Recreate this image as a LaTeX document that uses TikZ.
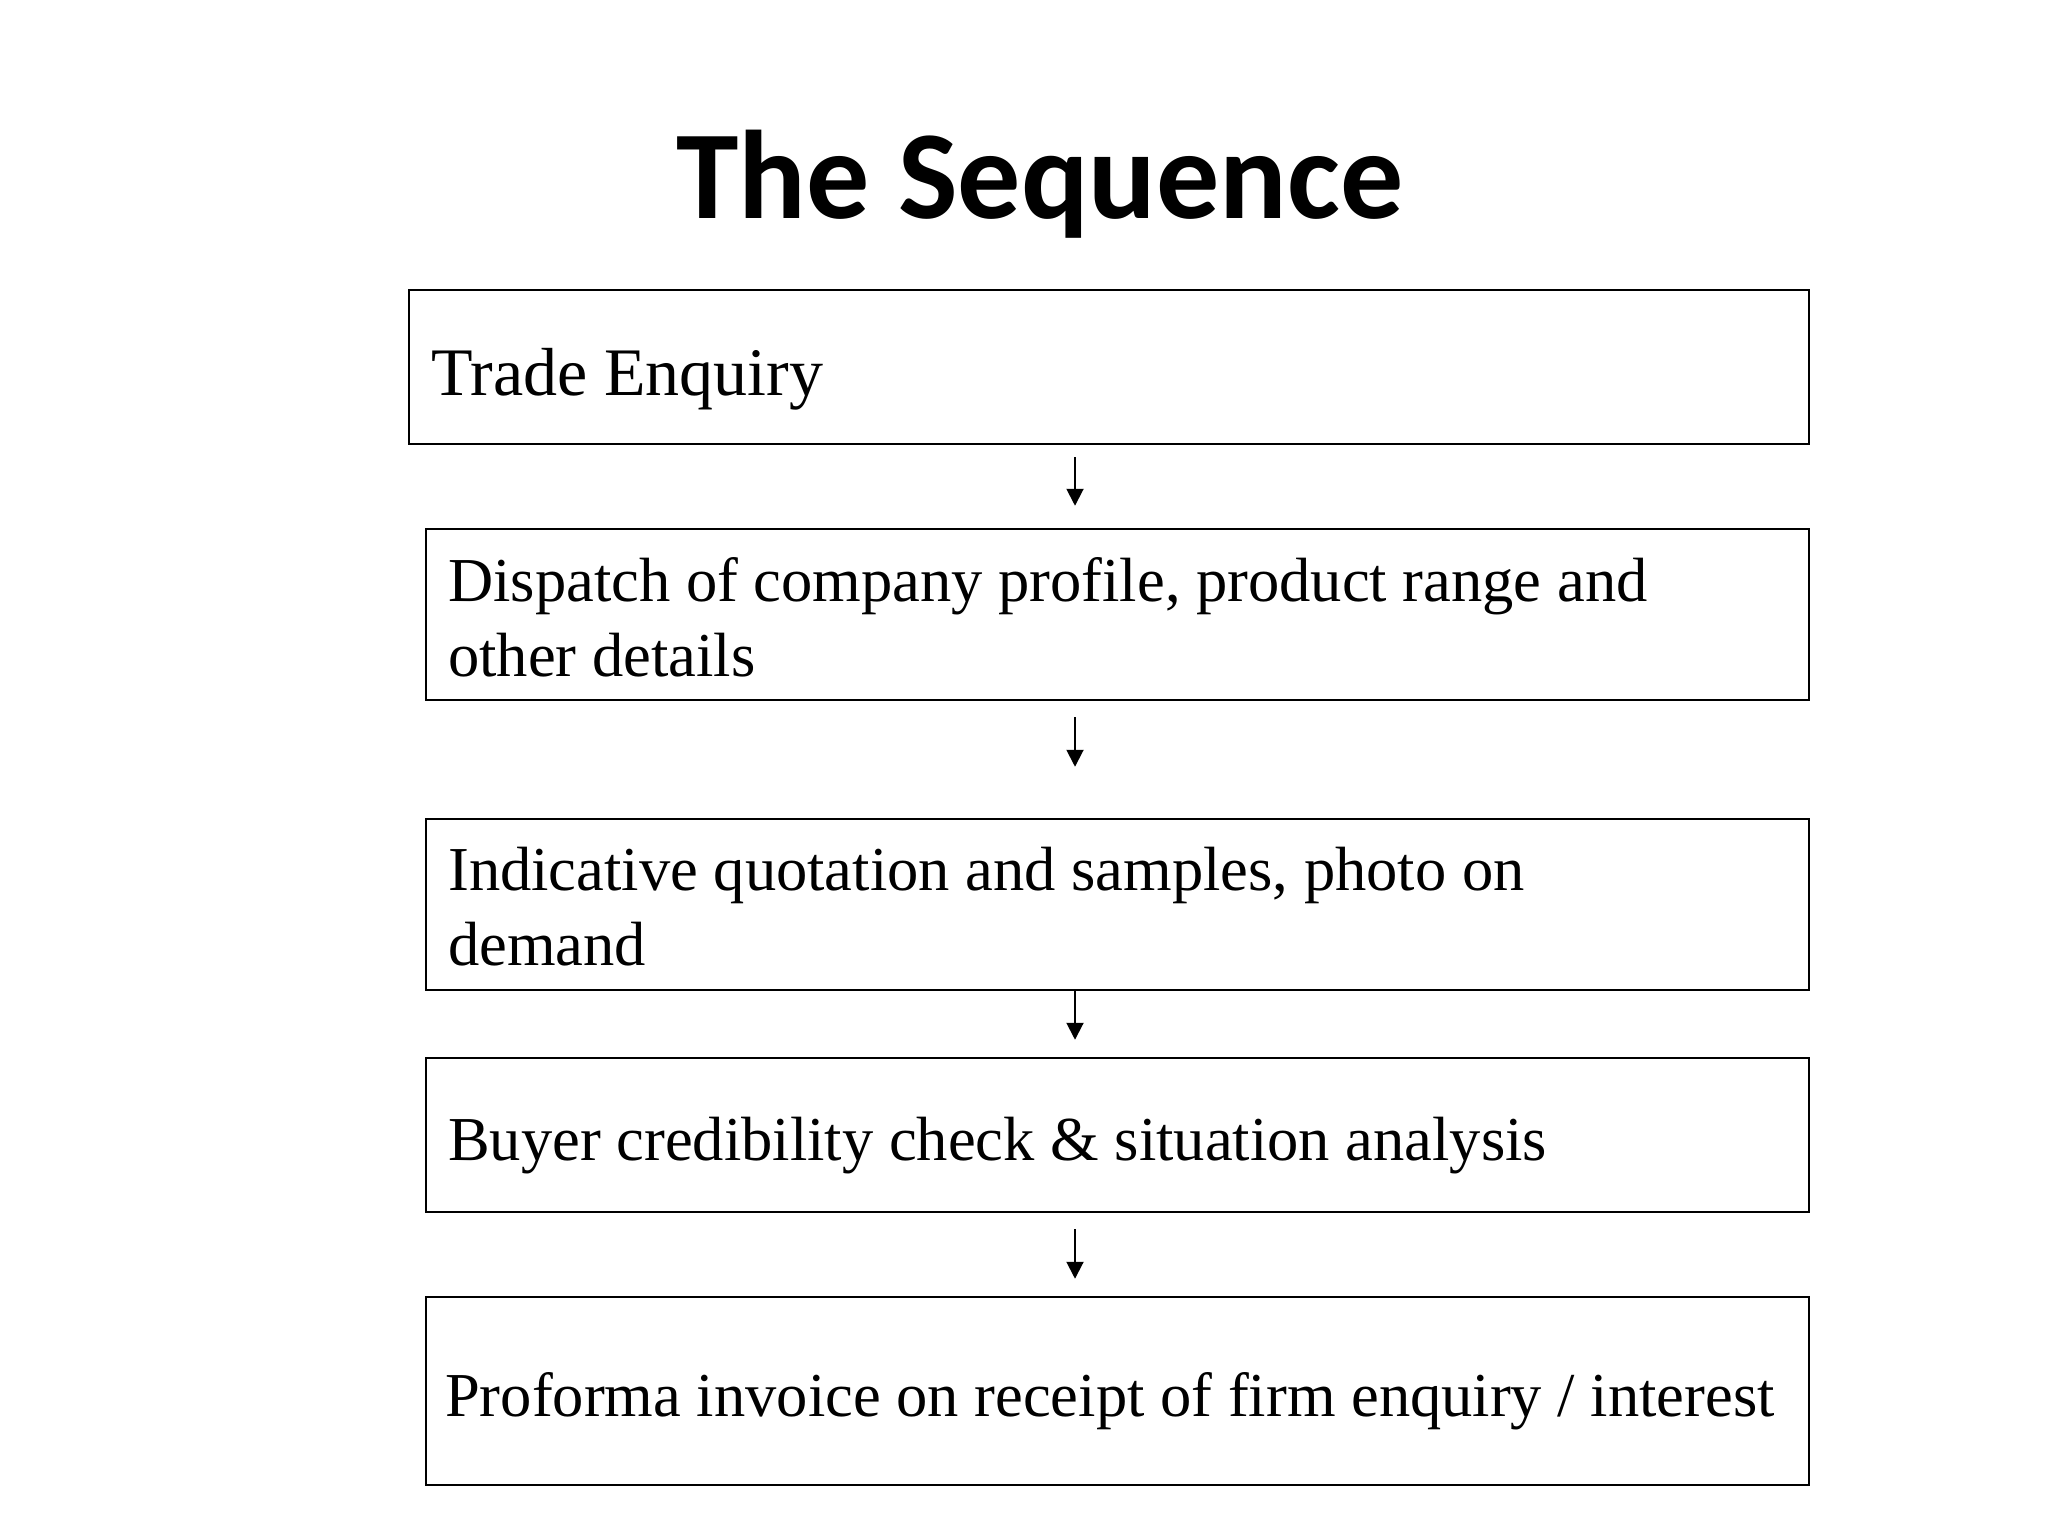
\documentclass[tikz,border=0pt]{standalone}
\usepackage{fontspec}
\setmainfont{Liberation Serif}
\newfontfamily\titlefont{Carlito}
\usetikzlibrary{arrows.meta}
\newcommand\boxtextfont{\fontsize{62.5}{75}\selectfont}
\begin{document}
\begin{tikzpicture}[x=1pt,y=-1pt,
  box/.style={draw=black, line width=2.5pt, inner sep=0pt},
  lbl/.style={anchor=base west, inner sep=0pt, align=left,
    font=\boxtextfont},
  arr/.style={line width=2pt, -{Triangle[width=17pt,length=17pt]}}]
\useasboundingbox (0,0) rectangle (2048,1536);
\fill[white] (0,0) rectangle (2048,1536);
\node[anchor=base, inner sep=0pt, font=\titlefont\bfseries\fontsize{126}{130}\selectfont] (title) at (1040,218) {The Sequence};
\node[box, minimum width=1400pt, minimum height=154pt] (b1) at (1109,367) {};
\node[box, minimum width=1383pt, minimum height=171pt] (b2) at (1117.5,614.5) {};
\node[box, minimum width=1383pt, minimum height=171pt] (b3) at (1117.5,904.5) {};
\node[box, minimum width=1383pt, minimum height=154pt] (b4) at (1117.5,1135) {};
\node[box, minimum width=1383pt, minimum height=188pt] (b5) at (1117.5,1391) {};
\node[lbl, font=\fontsize{68}{75}\selectfont] (t1) at (431,395) {Trade Enquiry};
\node[lbl, anchor=north west] (t2) at (448,557) {Dispatch of company profile, product range and\\ other details};
\node[lbl, anchor=north west] (t3) at (448,847) {Indicative quotation and samples, photo on\\ demand};
\node[lbl] (t4) at (448,1160) {Buyer credibility check \& situation analysis};
\node[lbl] (t5) at (445,1416) {Proforma invoice on receipt of firm enquiry / interest};
\coordinate (ax) at (1075,0);
\draw[arr] ([yshift=-12pt]b1.south -| ax) -- ([yshift=22pt]b2.north -| ax);
\draw[arr] ([yshift=-16pt]b2.south -| ax) -- ([yshift=51pt]b3.north -| ax);
\draw[arr] (b3.south -| ax) -- ([yshift=17pt]b4.north -| ax);
\draw[arr] ([yshift=-16pt]b4.south -| ax) -- ([yshift=17pt]b5.north -| ax);
\end{tikzpicture}
\end{document}
